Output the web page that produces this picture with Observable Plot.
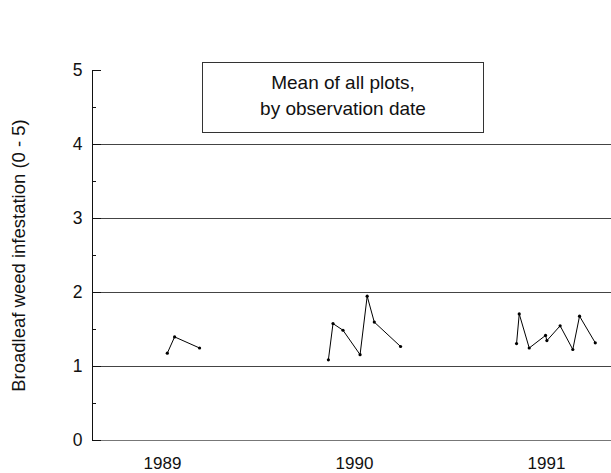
<!DOCTYPE html>
<html>
<head>
<meta charset="utf-8">
<script src="https://cdn.jsdelivr.net/npm/d3@7"></script>
<script src="https://cdn.jsdelivr.net/npm/@observablehq/plot@0.6"></script>
<style>
  html, body { margin: 0; padding: 0; background: #fff; }
  #chart { position: relative; width: 611px; height: 473px; font-family: "Liberation Sans", Arial, sans-serif; }
  #note {
    position: absolute; left: 202px; top: 62px; width: 280px; height: 69px;
    border: 1px solid #333; background: #fff; text-align: center;
    font-size: 19px; line-height: 26px; color: #111; box-sizing: content-box;
  }
  #note div:first-child { margin-top: 7px; }
</style>
</head>
<body>
<div id="chart"></div>
<script>
// Observation dates as decimal years; each growing season is drawn as its own line.
const obsDate = [
  1989.525, 1989.563, 1989.693,
  1990.364, 1990.388, 1990.440, 1990.529, 1990.566, 1990.603, 1990.740,
  1991.344, 1991.358, 1991.410, 1991.495, 1991.502, 1991.571, 1991.637, 1991.672, 1991.754
];
// Mean broadleaf weed infestation score (0 - 5) over all plots
const meanScore = [
  1.18, 1.40, 1.25,
  1.09, 1.58, 1.49, 1.16, 1.95, 1.60, 1.27,
  1.31, 1.71, 1.25, 1.42, 1.35, 1.55, 1.23, 1.68, 1.32
];
const season = [
  1989, 1989, 1989,
  1990, 1990, 1990, 1990, 1990, 1990, 1990,
  1991, 1991, 1991, 1991, 1991, 1991, 1991, 1991, 1991
];
// Year labels sit at mid-season of each year
const yearTicks = [1989.5, 1990.5, 1991.5];
const yearLabels = ["1989", "1990", "1991"];
const scoreTicks = [0, 1, 2, 3, 4, 5];
const halfTicks = [0.5, 1.5, 2.5, 3.5, 4.5];
const gridLevels = [1, 2, 3, 4];
const yTitle = "Broadleaf weed infestation (0 - 5)";
const noteLines = ["Mean of all plots,", "by observation date"];

const data = obsDate.map((d, i) => ({date: d, score: meanScore[i], season: season[i]}));

const chart = Plot.plot({
  width: 611,
  height: 473,
  marginLeft: 92,
  marginRight: 0,
  marginTop: 70,
  marginBottom: 33,
  style: {fontFamily: "'Liberation Sans', Arial, sans-serif", color: "#111", background: "#fff"},
  x: {domain: [1989.1354, 1991.8385]},
  y: {domain: [0, 5]},
  marks: [
    Plot.gridY(gridLevels, {stroke: "#444", strokeOpacity: 1}),
    Plot.frame({anchor: "bottom", stroke: "#777"}),
    Plot.frame({anchor: "left", stroke: "#111"}),
    Plot.axisY(scoreTicks, {
      tickSize: -9, tickPadding: 19, fontSize: 17.5, stroke: "#111",
      tickFormat: "d", label: null
    }),
    Plot.axisY(halfTicks, {tickSize: -4, text: null, label: null, stroke: "#111"}),
    Plot.text([yTitle], {
      frameAnchor: "left", rotate: -90, dx: -73, fontSize: 18.5,
      textAnchor: "middle", lineAnchor: "middle", fill: "#111"
    }),
    Plot.axisX(yearTicks, {
      tickSize: 0, tickPadding: 16, fontSize: 17, label: null,
      tickFormat: (d) => yearLabels[yearTicks.indexOf(d)]
    }),
    Plot.line(data, {x: "date", y: "score", z: "season", stroke: "#000", strokeWidth: 1}),
    Plot.dot(data, {x: "date", y: "score", r: 1.6, fill: "#000", stroke: null})
  ]
});

const root = document.getElementById("chart");
root.appendChild(chart);
const note = document.createElement("div");
note.id = "note";
for (const t of noteLines) {
  const line = document.createElement("div");
  line.textContent = t;
  note.appendChild(line);
}
root.appendChild(note);
</script>
</body>
</html>
